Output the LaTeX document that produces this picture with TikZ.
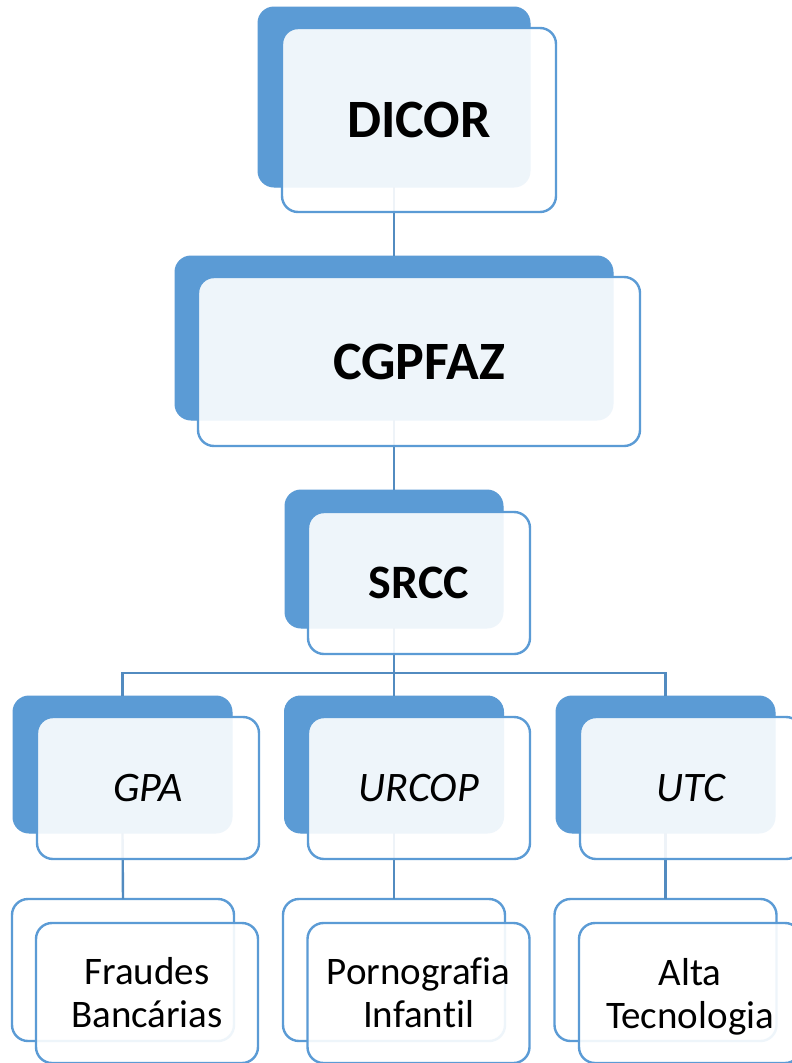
\documentclass[tikz,border=0pt]{standalone}
\usepackage{fontspec}
\setmainfont{Carlito}[Ligatures=NoCommon]
\definecolor{ofblue}{HTML}{5B9BD5}
\tikzset{
  backfill/.style={rectangle, rounded corners=16pt, fill=ofblue, draw=ofblue, line width=1pt, inner sep=0pt, outer sep=0pt},
  backline/.style={rectangle, rounded corners=16pt, fill=white, draw=ofblue, line width=2.4pt, inner sep=0pt, outer sep=0pt},
  frontbox/.style={rectangle, rounded corners=16pt, fill=white, fill opacity=0.9, text opacity=1, draw=ofblue, draw opacity=1, line width=2.4pt, inner sep=0pt, outer sep=0pt, align=center},
  conn/.style={draw=ofblue!90!black, line width=2.4pt},
  big/.style={font=\fontsize{54}{60}\selectfont\bfseries},
  mid/.style={font=\fontsize{48}{54}\selectfont\bfseries},
  lvl/.style={font=\fontsize{42}{48}\selectfont\itshape},
  leaf/.style={font=\fontsize{39}{43}\selectfont},
}
\begin{document}
\begin{tikzpicture}[x=1pt,y=-1pt]
\useasboundingbox (0,0) rectangle (792,1063);
\clip (0,0) rectangle (792,1063);
\fill[white] (0,0) rectangle (792,1063);
% back boxes
\node[backfill, minimum width=272pt, minimum height=180pt] (dicorB) at (394,97) {};
\node[backfill, minimum width=438pt, minimum height=164pt] (cgpB) at (394,338) {};
\node[backfill, minimum width=218pt, minimum height=138pt] (srccB) at (394,559) {};
\node[backfill, minimum width=219pt, minimum height=137pt] (gpaB) at (122.5,764.5) {};
\node[backfill, minimum width=219pt, minimum height=137pt] (urcopB) at (394,764.5) {};
\node[backfill, minimum width=219pt, minimum height=137pt] (utcB) at (665.5,764.5) {};
\node[backline, minimum width=222pt, minimum height=142pt] (fbB) at (123,970) {};
\node[backline, minimum width=222pt, minimum height=142pt] (piB) at (394,970) {};
\node[backline, minimum width=222pt, minimum height=142pt] (atB) at (665.5,970) {};
% connectors
\coordinate (hub) at (394,673);
\draw[conn] (dicorB.south) -- (cgpB.north);
\draw[conn] (cgpB.south) -- (srccB.north);
\draw[conn] (srccB.south) -- (hub);
\draw[conn] (hub) -- (urcopB.north);
\draw[conn] (gpaB.north) |- (hub) -| (utcB.north);
\draw[conn] (gpaB.south) -- (fbB.north);
\draw[conn] (urcopB.south) -- (piB.north);
\draw[conn] (utcB.south) -- (atB.north);
% front boxes
\node[frontbox, big, minimum width=274pt, minimum height=184pt] (dicor) at (419,120) {DICOR};
\node[frontbox, big, minimum width=442pt, minimum height=169pt] (cgp) at (419,361.5) {CGPFAZ};
\node[frontbox, mid, minimum width=222pt, minimum height=142pt] (srcc) at (419,583) {SRCC};
\node[frontbox, lvl, minimum width=222pt, minimum height=142pt] (gpa) at (148,788) {GPA};
\node[frontbox, lvl, minimum width=222pt, minimum height=142pt] (urcop) at (419,788) {URCOP};
\node[frontbox, lvl, minimum width=222pt, minimum height=142pt] (utc) at (691,788) {UTC};
\node[frontbox, leaf, minimum width=222pt, minimum height=140pt] (fb) at (147,993) {Fraudes\\Bancárias};
\node[frontbox, leaf, minimum width=222pt, minimum height=140pt] (pi) at (418.5,993) {Pornografia\\Infantil};
\node[frontbox, leaf, minimum width=222pt, minimum height=140pt] (at) at (690,993) {Alta\\\raisebox{0pt}[\height][0pt]{Tecnologia}};
\end{tikzpicture}
\end{document}
